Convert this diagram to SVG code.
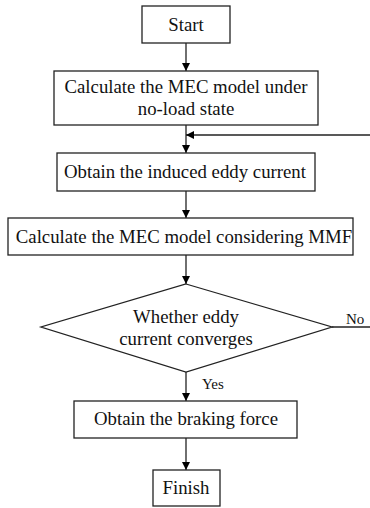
<svg xmlns="http://www.w3.org/2000/svg" width="370" height="508" viewBox="0 0 370 508">
<defs>
<marker id="ah" viewBox="0 0 10 10" refX="10" refY="5" markerWidth="8" markerHeight="8" markerUnits="userSpaceOnUse" orient="auto">
<path d="M0,0 L10,5 L0,10 z" fill="#000"/>
</marker>
<style>
.box{fill:#fff;stroke:#222;stroke-width:1.3}
.t{font-family:"Liberation Serif","Times New Roman",serif;font-size:18.8px;fill:#111;text-anchor:middle}
.l{font-family:"Liberation Serif","Times New Roman",serif;font-size:15px;fill:#111}
.c{fill:none;stroke:#222;stroke-width:1.3}
</style>
</defs>
<rect width="370" height="508" fill="#fff"/>
<g id="connectors">
<line class="c" x1="186" y1="43" x2="186" y2="71" marker-end="url(#ah)"/>
<line class="c" x1="186" y1="125" x2="186" y2="153" marker-end="url(#ah)"/>
<line class="c" x1="370" y1="135" x2="186" y2="135" marker-end="url(#ah)"/>
<line class="c" x1="186" y1="191" x2="186" y2="218" marker-end="url(#ah)"/>
<line class="c" x1="186" y1="255" x2="186" y2="284" marker-end="url(#ah)"/>
<line class="c" x1="332" y1="327" x2="370" y2="327"/>
<line class="c" x1="186" y1="372" x2="186" y2="401" marker-end="url(#ah)"/>
<line class="c" x1="186" y1="438" x2="186" y2="470" marker-end="url(#ah)"/>
<text class="l" x="346" y="324">No</text>
<text class="l" x="202" y="389">Yes</text>
</g>
<g id="start"><rect class="box" x="142" y="6" width="88" height="37"/><text class="t" x="186" y="31">Start</text></g>
<g id="mec-noload"><rect class="box" x="54" y="71" width="264" height="54"/><text class="t" x="186" y="93">Calculate the MEC model under</text><text class="t" x="186" y="115">no-load state</text></g>
<g id="eddy"><rect class="box" x="57" y="153" width="258" height="38"/><text class="t" x="185" y="178">Obtain the induced eddy current</text></g>
<g id="mec-mmf"><rect class="box" x="8" y="218" width="345" height="37"/><text class="t" x="184" y="243">Calculate the MEC model considering MMF</text></g>
<g id="decision"><polygon class="box" points="186,284 332,327 186,372 41,327"/><text class="t" x="186" y="323">Whether eddy</text><text class="t" x="186" y="345">current converges</text></g>
<g id="braking"><rect class="box" x="74" y="401" width="223" height="37"/><text class="t" x="186" y="425">Obtain the braking force</text></g>
<g id="finish"><rect class="box" x="153" y="470" width="67" height="36"/><text class="t" x="186" y="494">Finish</text></g>
</svg>
